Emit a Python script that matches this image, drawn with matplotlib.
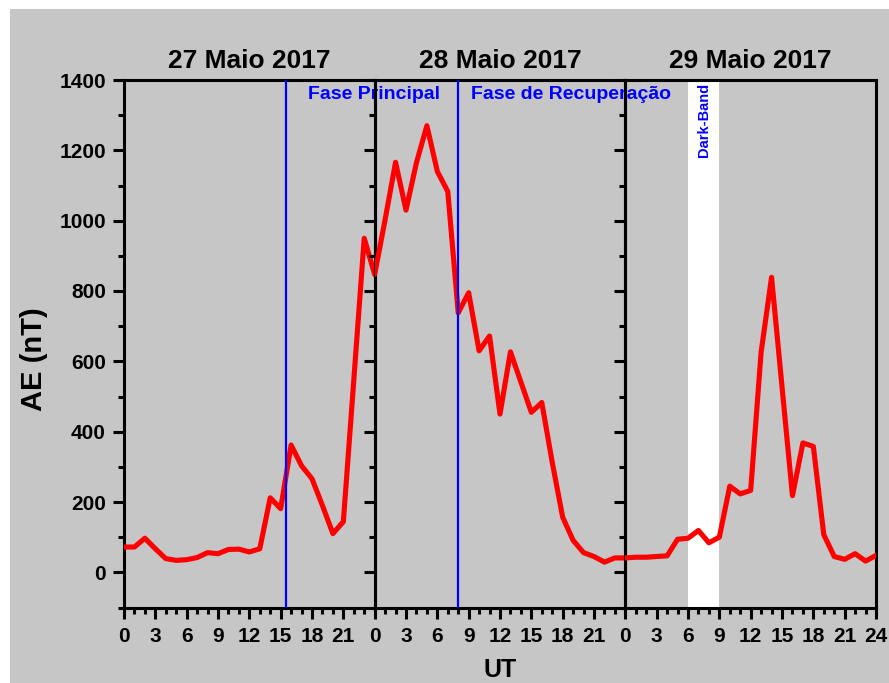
import matplotlib
matplotlib.use('Agg')
import matplotlib.pyplot as plt
from matplotlib.patches import Rectangle
from matplotlib.ticker import MultipleLocator
import numpy as np

plt.rcParams['font.family'] = ['Liberation Sans', 'DejaVu Sans']
plt.rcParams['font.weight'] = 'bold'

# Índice AE horário (nT), 27-29 de maio de 2017
ae_27 = [72, 72, 97, 67, 39, 34, 36, 42, 56, 53, 65, 66,
         58, 67, 212, 181, 362, 303, 266, 190, 110, 144, 546, 950]
ae_28 = [847, 1003, 1166, 1030, 1165, 1270, 1140, 1083, 738, 795, 630, 672,
         450, 627, 541, 455, 483, 313, 157, 91, 56, 45, 29, 41]
ae_29 = [41, 43, 43, 45, 47, 94, 97, 119, 84, 100, 245, 223,
         233, 626, 839, 528, 218, 368, 358, 107, 45, 37, 53, 32, 48]

dias = ['27 Maio 2017', '28 Maio 2017', '29 Maio 2017']
inicio_fase_principal = 15.5   # UT, dia 27
inicio_recuperacao = 8.0       # UT, dia 28
dark_band = (6, 9)             # UT, dia 29

# série contínua em horas desde 27/05 00 UT
ae = np.array(ae_27 + ae_28 + ae_29, dtype=float)
horas = np.arange(len(ae))

cinza = '#c6c6c6'
fig = plt.figure(figsize=(8.89, 6.83), dpi=100)
fig.patch.set_facecolor('white')
fig.add_artist(Rectangle((10 / 889, 0), 1, 674 / 683, transform=fig.transFigure,
                         facecolor=cinza, edgecolor='none', zorder=-10))

x0, larg, y0, alt = 124 / 889, 250.67 / 889, 75.5 / 683, 527.5 / 683
axes = []
for i in range(3):
    ax = fig.add_axes([x0 + i * larg, y0, larg, alt])
    ax.set_facecolor('none')
    ax.plot(horas - 24 * i, ae, color='red', lw=3.7, zorder=3)
    ax.set_xlim(0, 24)
    ax.set_ylim(-100, 1400)
    ax.set_xticks(range(0, 25 if i == 2 else 22, 3))
    ax.xaxis.set_minor_locator(MultipleLocator(1))
    ax.yaxis.set_major_locator(MultipleLocator(200))
    ax.yaxis.set_minor_locator(MultipleLocator(100))
    ax.tick_params(which='major', direction='out', length=8, width=2.2,
                   labelsize=15, pad=5)
    ax.tick_params(which='minor', direction='out', length=4.3, width=2.2)
    ax.tick_params(axis='x', which='major', pad=6)
    if i > 0:
        ax.tick_params(axis='y', labelleft=False)
    for lab in ax.get_xticklabels() + ax.get_yticklabels():
        lab.set_fontweight('bold')
    for sp in ax.spines.values():
        sp.set_linewidth(2.2)
    ax.set_title(dias[i], fontsize=19, fontweight='bold', pad=8.5)
    axes.append(ax)

ax1, ax2, ax3 = axes

ax1.axvline(inicio_fase_principal, color='blue', lw=1.6, zorder=4)
ax1.text(17.6, 1346, 'Fase Principal', color='blue', fontsize=14,
         fontweight='bold', va='baseline', clip_on=False, zorder=2)

ax2.axvline(inicio_recuperacao, color='blue', lw=1.6, zorder=4)
ax2.text(9.25, 1346, 'Fase de Recuperação', color='blue', fontsize=14,
         fontweight='bold', va='baseline', clip_on=False, zorder=2)

ax3.axvspan(*dark_band, color='white', lw=0, zorder=1)
ax3.text(sum(dark_band) / 2, 1392, 'Dark-Band', color='blue', fontsize=10.5,
         fontweight='bold', rotation=90, ha='center', va='top', zorder=2)

fig.text(34 / 889, 1 - 359.5 / 683, 'AE (nT)', rotation=90, fontsize=21,
         fontweight='bold', ha='center', va='center')
fig.text(500 / 889, 1 - 677 / 683, 'UT', fontsize=18, fontweight='bold',
         ha='center', va='baseline')

fig.savefig('out.png', dpi=100, facecolor=fig.get_facecolor())
